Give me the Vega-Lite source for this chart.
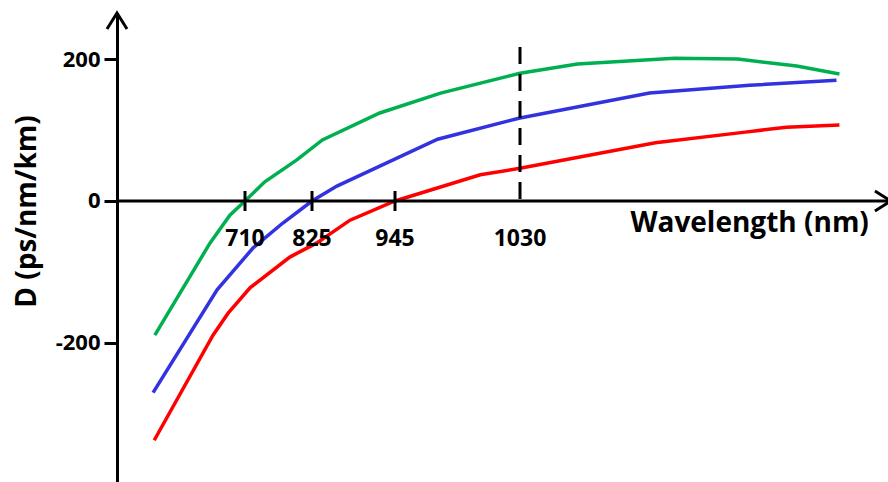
{
  "$schema": "https://vega.github.io/schema/vega-lite/v6.json",
  "width": 771,
  "height": 469,
  "autosize": "none",
  "padding": {"left": 117, "top": 13, "right": 0, "bottom": 0},
  "background": "white",
  "config": {
    "view": {"stroke": null},
    "font": "Open Sans"
  },
  "datasets": {
    "curves": [
      {"fiber": "ZDW 710 nm", "wavelength": 555, "D": -189},
      {"fiber": "ZDW 710 nm", "wavelength": 650, "D": -59},
      {"fiber": "ZDW 710 nm", "wavelength": 684, "D": -20},
      {"fiber": "ZDW 710 nm", "wavelength": 710, "D": 0},
      {"fiber": "ZDW 710 nm", "wavelength": 744, "D": 27},
      {"fiber": "ZDW 710 nm", "wavelength": 799, "D": 58},
      {"fiber": "ZDW 710 nm", "wavelength": 840, "D": 86},
      {"fiber": "ZDW 710 nm", "wavelength": 923, "D": 124},
      {"fiber": "ZDW 710 nm", "wavelength": 976, "D": 152},
      {"fiber": "ZDW 710 nm", "wavelength": 1030, "D": 180},
      {"fiber": "ZDW 710 nm", "wavelength": 1069, "D": 193},
      {"fiber": "ZDW 710 nm", "wavelength": 1135, "D": 201},
      {"fiber": "ZDW 710 nm", "wavelength": 1178, "D": 200},
      {"fiber": "ZDW 710 nm", "wavelength": 1218, "D": 190},
      {"fiber": "ZDW 710 nm", "wavelength": 1247, "D": 179},

      {"fiber": "ZDW 825 nm", "wavelength": 552, "D": -270},
      {"fiber": "ZDW 825 nm", "wavelength": 662, "D": -125},
      {"fiber": "ZDW 825 nm", "wavelength": 724, "D": -66},
      {"fiber": "ZDW 825 nm", "wavelength": 775, "D": -31},
      {"fiber": "ZDW 825 nm", "wavelength": 825, "D": 0},
      {"fiber": "ZDW 825 nm", "wavelength": 861, "D": 21},
      {"fiber": "ZDW 825 nm", "wavelength": 974, "D": 87},
      {"fiber": "ZDW 825 nm", "wavelength": 1030, "D": 117},
      {"fiber": "ZDW 825 nm", "wavelength": 1118, "D": 152},
      {"fiber": "ZDW 825 nm", "wavelength": 1186, "D": 163},
      {"fiber": "ZDW 825 nm", "wavelength": 1245, "D": 170},

      {"fiber": "ZDW 945 nm", "wavelength": 554, "D": -337},
      {"fiber": "ZDW 945 nm", "wavelength": 655, "D": -189},
      {"fiber": "ZDW 945 nm", "wavelength": 681, "D": -158},
      {"fiber": "ZDW 945 nm", "wavelength": 719, "D": -122},
      {"fiber": "ZDW 945 nm", "wavelength": 787, "D": -79},
      {"fiber": "ZDW 945 nm", "wavelength": 832, "D": -59},
      {"fiber": "ZDW 945 nm", "wavelength": 880, "D": -27},
      {"fiber": "ZDW 945 nm", "wavelength": 945, "D": 0},
      {"fiber": "ZDW 945 nm", "wavelength": 1003, "D": 37},
      {"fiber": "ZDW 945 nm", "wavelength": 1030, "D": 46},
      {"fiber": "ZDW 945 nm", "wavelength": 1122, "D": 82},
      {"fiber": "ZDW 945 nm", "wavelength": 1183, "D": 97},
      {"fiber": "ZDW 945 nm", "wavelength": 1211, "D": 104},
      {"fiber": "ZDW 945 nm", "wavelength": 1247, "D": 107}
    ],
    "marks": [
      {"wavelength": 710, "label": "710", "zdw": true},
      {"wavelength": 825, "label": "825", "zdw": true},
      {"wavelength": 945, "label": "945", "zdw": true},
      {"wavelength": 1030, "label": "1030", "zdw": false}
    ],
    "single": [{}]
  },
  "layer": [
    {
      "data": {"name": "curves"},
      "mark": {"type": "line", "strokeWidth": 3.5, "interpolate": "linear"},
      "encoding": {
        "x": {
          "field": "wavelength",
          "type": "quantitative",
          "scale": {
            "domain": [490, 710, 825, 945, 1030, 1280],
            "range": [0, 128, 195, 278, 403, 771],
            "nice": false,
            "zero": false
          },
          "axis": null
        },
        "y": {
          "field": "D",
          "type": "quantitative",
          "scale": {"domain": [-395.8, 264.8], "nice": false, "zero": false},
          "axis": {
            "values": [-200, 0, 200],
            "labelExpr": "datum.value < 0 ? '-' + abs(datum.value) : '' + datum.value",
            "grid": false,
            "domainColor": "black",
            "domainWidth": 3,
            "tickColor": "black",
            "tickWidth": 3,
            "tickSize": 13,
            "labelPadding": 4,
            "labelFont": "Open Sans",
            "labelFontSize": 22,
            "labelFontWeight": "bold",
            "labelColor": "black",
            "title": "D (ps/nm/km)",
            "titleFont": "Open Sans",
            "titleFontSize": 28,
            "titleFontWeight": "bold",
            "titleColor": "black",
            "titleX": -90,
            "titleY": 198,
            "titleBaseline": "middle",
            "titleAlign": "center",
            "titleAngle": -90
          }
        },
        "color": {
          "field": "fiber",
          "type": "nominal",
          "scale": {
            "domain": ["ZDW 710 nm", "ZDW 825 nm", "ZDW 945 nm"],
            "range": ["#00B050", "#3232E0", "#FF0000"]
          },
          "legend": null
        }
      }
    },
    {
      "data": {"name": "single"},
      "mark": {"type": "rule", "color": "black", "strokeWidth": 3, "strokeDash": [17, 10], "opacity": 1},
      "encoding": {
        "x": {"datum": 1030, "type": "quantitative", "axis": null},
        "y": {"datum": 217, "type": "quantitative"},
        "y2": {"datum": 0}
      }
    },
    {
      "data": {"name": "single"},
      "mark": {"type": "rule", "color": "black", "strokeWidth": 3, "opacity": 1},
      "encoding": {
        "x": {"datum": 490, "type": "quantitative", "axis": null},
        "x2": {"datum": 1281},
        "y": {"datum": 0, "type": "quantitative"}
      }
    },
    {
      "data": {"name": "marks"},
      "transform": [{"filter": "datum.zdw"}],
      "mark": {"type": "tick", "orient": "vertical", "color": "black", "size": 20, "thickness": 3, "opacity": 1},
      "encoding": {
        "x": {"field": "wavelength", "type": "quantitative", "axis": null},
        "y": {"datum": 0, "type": "quantitative"}
      }
    },
    {
      "data": {"name": "marks"},
      "mark": {"type": "text", "font": "Open Sans", "fontSize": 23, "fontWeight": "bold", "color": "black", "align": "center", "baseline": "middle", "dy": 38},
      "encoding": {
        "x": {"field": "wavelength", "type": "quantitative", "axis": null},
        "y": {"datum": 0, "type": "quantitative"},
        "text": {"field": "label"}
      }
    },
    {
      "data": {"name": "single"},
      "mark": {"type": "text", "font": "Open Sans", "fontSize": 28, "fontWeight": "bold", "color": "black", "align": "center", "baseline": "alphabetic", "dy": 31},
      "encoding": {
        "x": {"datum": 1186, "type": "quantitative", "axis": null},
        "y": {"datum": 0, "type": "quantitative"},
        "text": {"value": "Wavelength (nm)"}
      }
    },
    {
      "data": {"name": "single"},
      "mark": {"type": "point", "shape": "M-1.6,-1L0,0L-1.6,1", "filled": false, "stroke": "black", "strokeWidth": 3, "size": 400, "opacity": 1},
      "encoding": {
        "x": {"datum": 1282, "type": "quantitative", "axis": null},
        "y": {"datum": 0, "type": "quantitative"}
      }
    },
    {
      "data": {"name": "single"},
      "mark": {"type": "point", "shape": "M-1,1.6L0,0L1,1.6", "filled": false, "stroke": "black", "strokeWidth": 3, "size": 400, "opacity": 1},
      "encoding": {
        "x": {"datum": 490, "type": "quantitative", "axis": null},
        "y": {"datum": 264.8, "type": "quantitative"}
      }
    }
  ]
}
